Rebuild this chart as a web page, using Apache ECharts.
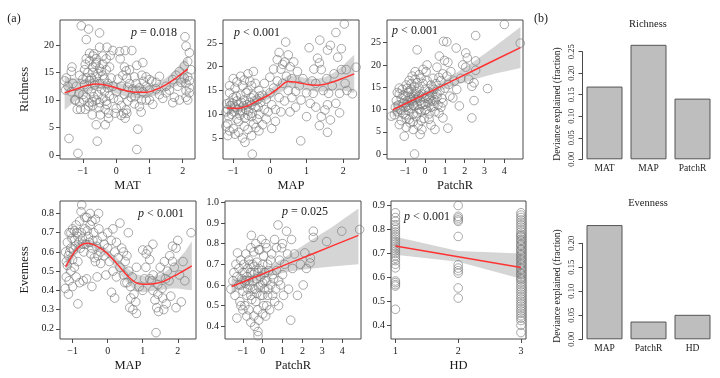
<!DOCTYPE html>
<html><head><meta charset="utf-8">
<script src="https://cdn.jsdelivr.net/npm/echarts@6/dist/echarts.min.js"></script>
<style>html,body{margin:0;padding:0;background:#fff}#c{width:720px;height:378px}</style>
</head><body><div id="c"></div>
<script>
// ---------------- DATA ----------------
// Panel 1: Richness vs MAT
const richMAT = [
[-1.05,23.5],[-0.83,22.9],[-0.5,22.2],[-0.9,21],[-1.33,16],[-1.35,15.2],[-1.5,14],[-1.52,11.8],[-1.42,3],[-1.15,0.3],[-0.57,2.5],[0.62,1],[0.65,4.7],[-0.6,5.5],[-0.33,5.5],[-0.23,6.7],
[-0.1,19],[0.1,18.8],[0.27,19],[0.47,19],[0.12,17.5],[-0.18,18.1],[-0.28,19.6],[-0.5,19.6],[-0.67,18.4],[-0.62,16.5],[-0.8,17.1],[-0.93,16.5],[0.62,16.3],[0.3,15.3],[0.32,14],[0.77,14.5],[0.82,13.4],[1.07,13.4],[1.3,14.3],[1.7,13.7],[1.9,15.2],
[2.07,21.5],[2.1,19.8],[2.2,18.6],[2.15,17],[2.05,16.2],[2.25,15.5],[2.15,14.2],[2.1,13],[2.2,12.2],[2.1,10.5],[1.9,10],[2.15,10],[2.2,11.3],[1.75,10.5],[1.5,11.3],[1.4,10.3],[1.1,9.2],[1.0,10],[0.7,8.8],[0.76,10],[0.62,11.8],[0.57,10.6],[0.32,7.6],[0.22,7.6],[0.27,6.7],[-0.03,7.6],[0.07,10],[-0.08,10.3],[-0.28,9.2],[-0.33,8.3],[-0.23,7.6],[-0.48,7.3],[-0.72,7.3],[-0.93,8.3],[-1.07,8.3],[-1.17,8.3],[-1.22,10],[-1.12,11.2],[-0.98,10],[-0.83,8.9],[-0.68,10.6],[-0.72,9.7],[-0.52,8.6],
[-0.9,14],[-0.8,13.5],[-0.7,15],[-0.6,14.2],[-0.5,13],[-0.4,14.5],[-0.3,15.5],[-0.85,12],[-0.75,11.5],[-0.65,12.7],[-0.55,11],[-0.45,12],[-0.35,11.5],[-0.25,13],[-0.95,12.8],[-1.0,11],[-0.7,16],[-0.6,16.8],[-0.5,15.8],[-0.4,16.5],[-0.3,17.5],[-0.2,16],[-0.15,14],[-0.1,12.5],[0.0,11.5],[0.05,13.8],[0.15,12.5],[0.2,14.5],[0.25,11],[0.35,12.3],[0.4,13],[0.45,10.5],[0.5,12],[-0.9,10.5],[-0.8,9.5],[-0.7,9],[-0.6,10],[-0.5,9.5],[-0.4,10.3],[-0.3,9.8],[-0.2,10.8],[-1.3,13],[-1.2,12.5],[-1.1,14.5],[-1.25,10],[-1.35,11.5],[-1.45,12.5],[-1.55,13.5],[-1.1,9.5],[-1.0,13.8],[-0.95,15.5],[-0.85,15],[-0.75,14],[-0.65,13.2],[-0.55,14.8],[-0.45,15.2],[-0.35,13.8],[-0.25,12.2],[-0.9,17.5],[-0.8,18.5],[-0.7,18],[-0.6,17.5],[-0.4,18],[0.25,16],[0.4,15.5],[0.55,14.2],[0.6,13],[0.7,12.2],[0.8,11.5],[0.9,12.5],[1.0,11.8],[1.2,12],[1.3,11],[1.5,12.5],[1.6,11.8],[1.7,9.5],[1.85,12.5],[1.8,14.5],[1.95,13.2],[2.05,14],[2.2,13.5],[2.1,11.7],[1.2,13.2],[1.0,13.7],[0.9,14.2],[0.8,16.8],[0.55,9.3],[0.35,9.8],[0.15,9],[0.0,8.5],[0.9,10],[0.75,7.8],[0.15,7.2],[0.3,8.2]
];
const richMATfx = [-1.55,-1.2,-0.9,-0.6,-0.3,0,0.3,0.6,0.9,1.2,1.5,1.8,2.15];
const richMATfy = [11.3,12.0,12.6,12.9,12.7,12.2,11.7,11.4,11.4,11.9,12.8,14.0,15.6];
const richMATlo = [8.2,10.0,11.4,12.0,11.9,11.2,10.6,10.3,10.3,10.8,11.6,12.5,13.1];
const richMAThi = [14.2,13.9,13.8,13.8,13.5,13.2,12.8,12.5,12.6,13.0,14.0,15.5,18.0];

// Panel 2: Richness vs MAP
const richMAP = [
[-1.15,11],[-1.1,12.5],[-1.05,10],[-1.0,13.5],[-0.95,11.5],[-0.9,9],[-0.85,12],[-0.8,14],[-0.75,10.5],[-0.7,13],[-0.65,11],[-0.6,15],[-0.55,12.5],[-0.5,9.5],[-0.45,14],[-0.4,11.5],[-0.35,13],[-0.3,10],[-1.15,8],[-1.1,14.5],[-1.0,7],[-0.95,15.5],[-0.9,12.8],[-0.85,8.5],[-0.8,10.8],[-0.75,16],[-0.7,7.5],[-0.65,14.5],[-0.6,9.8],[-0.55,17],[-0.5,12],[-0.45,8],[-0.4,16.5],[-0.35,9],[-0.3,15],[-0.25,12.5],[-0.2,14],[-0.15,11],[-1.2,10.5],[-1.18,12.2],[-1.12,9.5],[-1.08,11.8],[-1.02,12.3],[-0.98,10.5],[-0.92,13.8],[-0.88,11],[-0.82,9.8],[-0.78,12.5],[-0.72,11.8],[-0.68,9.2],[-0.62,12],[-0.58,10.7],[-0.52,13.5],[-0.48,10.2],[-0.42,12.8],[-0.38,7.2],[-0.32,11.5],[-0.28,13.8],[-1.1,16],[-1.0,17.5],[-0.9,16.8],[-0.8,18],[-0.7,17.2],[-0.6,18.5],[-0.5,16],[-0.45,19],[-1.2,7.5],[-1.1,6.5],[-0.95,5.8],[-0.85,6.2],[-0.75,5],[-0.68,4.1],[-0.6,6.8],[-0.5,5.5],[-0.48,1.6],[-1.15,5.5],[-0.3,6.5],[-0.2,7.8],[-0.1,9],[-0.15,16.5],[-0.1,13.2],[-0.05,10.5],
[0,14.5],[0.05,12],[0.1,15.5],[0.15,11],[0.2,17],[0.25,13.5],[0.3,19.5],[0.3,10.5],[0.35,16.5],[0.4,21],[0.4,12.8],[0.45,18],[0.5,15],[0.5,22.5],[0.55,20],[0.6,17.5],[0.6,13.5],[0.2,21.5],[0.1,19.5],[0.25,23],[0.43,25.2],[0.35,20.5],[0.0,17.8],[0.7,14.8],[0.75,19],[0.8,16],[0.85,13],[0.9,17.5],[0.65,21],[0.7,11.5],[0.55,10.5],[0.15,8.5],[0.05,7],
[1.0,14.5],[1.07,24],[1.1,12.3],[1.15,17],[1.18,14.4],[1.2,19.5],[1.25,16.5],[1.3,21.8],[1.35,20.8],[1.35,7.6],[1.4,19.4],[1.4,9.5],[1.36,25.6],[1.45,15],[1.5,10.9],[1.55,17.5],[1.57,23.5],[1.57,12],[1.57,6.2],[1.6,14.4],[1.65,8.8],[1.7,16],[1.75,18.5],[1.8,12.3],[1.8,27.2],[1.85,22],[1.9,14.4],[1.9,10.3],[1.95,19.4],[2.03,29],[2.05,16.5],[2.08,19.4],[2.1,15],[2.25,14.3],[2.35,19.9],[0.84,4.4],[1.0,9.5],[1.25,11.5],[1.65,24.5],[1.95,23.8]
];
const richMAPfx = [-1.17,-0.9,-0.6,-0.3,0,0.25,0.5,0.75,1.0,1.25,1.5,1.75,2.0,2.3];
const richMAPfy = [11.3,11.2,11.8,13.0,14.2,15.6,16.9,16.7,16.3,16.1,16.3,16.9,17.6,18.5];
const richMAPlo = [9.8,10.4,11.1,12.2,13.2,14.4,15.6,15.4,15.0,14.8,14.8,15.0,15.0,14.5];
const richMAPhi = [12.8,12.0,12.5,13.8,15.2,16.8,18.2,18.0,17.6,17.4,17.8,18.8,20.3,22.5];

// Panel 3: Richness vs PatchR
const richPR = [
[-1.7,8.5],[-1.55,8.8],[-1.5,10.5],[-1.45,12],[-1.4,9.5],[-1.35,11],[-1.3,6.6],[-1.3,13.5],[-1.25,10],[-1.2,7.5],[-1.2,12.5],[-1.15,14.5],[-1.1,9],[-1.1,11.5],[-1.05,4],[-1.0,13],[-1.0,10.5],[-0.95,15.5],[-0.95,8],[-0.9,12],[-0.85,9.8],[-0.85,13.8],[-0.8,11],[-0.8,16.5],[-0.75,7],[-0.75,12.8],[-0.7,10.2],[-0.7,14.5],[-0.65,11.8],[-0.65,17.5],[-0.6,9],[-0.6,13],[-0.55,10.8],[-0.55,15.2],[-0.53,0],[-0.5,12.2],[-0.5,18.5],[-0.45,8.5],[-0.45,14],[-0.4,23.4],[-0.4,11],[-0.4,16],[-0.35,12.8],[-0.35,6.5],[-0.3,10],[-0.3,14.8],[-0.25,4.4],[-0.25,12],[-0.2,17],[-0.2,9.5],[-0.16,5.5],[-0.15,13.5],[-0.1,11],[-0.1,15.8],[-0.05,8],[0,12.5],[0,14.5],[0.05,10],[0.05,18.5],[0.1,13],[0.1,16.5],[0.15,11.5],[0.2,14],[0.2,9],[0.25,12.8],[0.3,15.5],[0.3,10.5],[0.35,13.2],[0.4,17],[0.4,11.8],[0.45,14.5],[0.5,12.2],[0.5,9.5],[0.55,15.8],[0.6,13.5],[0.6,19.5],[0.65,11],[0.72,22],[0.75,14.2],[0.8,16.5],[0.85,12.5],[0.9,8.1],[0.93,25.3],[0.98,21],[1.0,14.8],[1.1,25.2],[1.1,17.5],[1.15,20.6],[1.15,5.8],[1.2,15.6],[1.25,13],[1.3,18.5],[1.4,12.6],[1.48,16.4],[1.57,23.8],[1.6,14.5],[1.73,10.8],[1.8,17],[1.9,20],[2.05,22.7],[2.05,19.5],[2.13,21.6],[2.2,16.8],[2.36,15.2],[2.36,8.1],[2.47,16],[2.47,12],[2.55,20.9],[2.55,18.8],[2.55,26.6],[3.15,14.7],[4.0,29.1],[4.8,24.9],
[-1.2,9.8],[-1.0,8.8],[-0.8,7.8],[-0.6,7.2],[-0.4,9.2],[-0.2,7.5],[0,9.8],[0.2,7.8],[-0.9,14.8],[-0.7,15.8],[-0.5,16.8],[-0.3,17.8],[-0.1,19],[0.1,20],[-1.4,13.8],[-1.3,14.8],[-0.95,6],[-0.6,5.5],[0.3,6.5],[0.5,5.5],[0.7,9.2],[0.8,10.5],[0.9,11.5],[0.3,12],[0.4,14.8],[0.7,17.2],[0.9,18],[-0.3,13.2],[-0.5,13.6],[-0.7,12.2],[-0.9,10.8],[-1.1,13.2],[-0.8,14.2],[-0.6,11],[-0.4,12.5],[-0.2,11.2],[0,11.2],[0.2,12.4],[0.45,10.8],[0.6,12.8]
];
const richPRfx = [-1.63,-0.5,0.5,1.5,2.5,3.5,4.81];
const richPRfy = [9.9,12.36,14.53,16.7,18.88,21.05,23.9];
const richPRlo = [8.2,11.6,13.8,15.4,16.8,18.0,19.3];
const richPRhi = [11.6,13.1,15.3,18.0,20.9,24.1,28.5];

// Panel 4: Evenness vs MAP
const evenMAP = [
[-1.2,0.6],[-1.15,0.65],[-1.1,0.7],[-1.05,0.62],[-1.0,0.72],[-0.95,0.66],[-0.9,0.74],[-0.85,0.68],[-0.8,0.76],[-0.75,0.7],[-0.7,0.64],[-0.65,0.72],[-0.6,0.78],[-0.55,0.68],[-0.5,0.74],[-0.45,0.62],[-0.4,0.7],[-0.35,0.77],[-0.3,0.66],[-0.25,0.72],[-0.2,0.6],[-0.15,0.68],[-0.1,0.64],[-1.18,0.55],[-1.12,0.58],[-1.08,0.6],[-1.02,0.67],[-0.98,0.61],[-0.92,0.63],[-0.88,0.7],[-0.82,0.65],[-0.78,0.62],[-0.72,0.67],[-0.68,0.6],[-0.62,0.64],[-0.58,0.71],[-0.52,0.65],[-0.48,0.59],[-0.42,0.66],[-0.38,0.57],[-0.32,0.63],[-0.28,0.58],[-0.74,0.845],[-0.76,0.81],[-0.26,0.8],[-0.5,0.8],[-0.45,0.76],[-0.65,0.78],[-0.95,0.71],[-1.05,0.7],
[-1.21,0.41],[-1.18,0.47],[-1.12,0.38],[-1.1,0.45],[-1.05,0.5],[-1.0,0.42],[-0.95,0.52],[-0.9,0.47],[-0.85,0.33],[-0.8,0.44],[-0.7,0.45],[-0.6,0.46],[-0.45,0.42],[-0.35,0.55],[-0.3,0.47],[-0.2,0.54],[-1.15,0.53],[-1.0,0.56],[-0.85,0.55],
[0.0,0.62],[0.05,0.55],[0.1,0.66],[0.15,0.5],[0.2,0.6],[0.25,0.47],[0.3,0.57],[0.35,0.75],[0.35,0.52],[0.4,0.62],[0.45,0.48],[0.5,0.55],[0.55,0.44],[0.59,0.7],[0.6,0.5],[0.65,0.42],[0.7,0.47],[0.11,0.39],[0.2,0.36],[0.49,0.44],[0.63,0.31],[0.72,0.3],[0.82,0.28],[0.66,0.36],[0.82,0.52],[0.75,0.38],[0.8,0.34],[-0.05,0.48],[0.0,0.7],[0.15,0.72],[0.25,0.65],[-0.1,0.58],[0.45,0.6],[0.55,0.58],
[0.9,0.42],[1.0,0.4],[1.05,0.46],[1.09,0.52],[1.1,0.59],[1.15,0.61],[1.2,0.56],[1.25,0.45],[1.29,0.64],[1.29,0.4],[1.3,0.48],[1.35,0.35],[1.38,0.18],[1.4,0.31],[1.43,0.43],[1.43,0.38],[1.45,0.29],[1.5,0.47],[1.5,0.52],[1.55,0.41],[1.57,0.36],[1.6,0.3],[1.62,0.55],[1.65,0.46],[1.67,0.33],[1.7,0.5],[1.75,0.45],[1.77,0.58],[1.8,0.37],[1.85,0.55],[1.9,0.52],[1.95,0.31],[1.95,0.62],[2.0,0.66],[2.05,0.48],[2.1,0.34],[2.15,0.55],[2.2,0.45],[2.38,0.7],[1.85,0.63],[1.0,0.61],[1.2,0.46]
];
const evenMAPfx = [-1.2,-1.0,-0.8,-0.6,-0.4,-0.2,0,0.2,0.4,0.6,0.8,1.0,1.2,1.4,1.6,1.8,2.0,2.2,2.4];
const evenMAPfy = [0.522,0.585,0.63,0.645,0.638,0.618,0.59,0.552,0.51,0.47,0.44,0.432,0.433,0.437,0.447,0.465,0.485,0.505,0.527];
const evenMAPlo = [0.48,0.56,0.61,0.628,0.622,0.6,0.568,0.525,0.475,0.43,0.395,0.39,0.395,0.4,0.405,0.41,0.41,0.405,0.4];
const evenMAPhi = [0.565,0.61,0.65,0.662,0.654,0.636,0.612,0.58,0.545,0.51,0.485,0.475,0.472,0.475,0.49,0.52,0.56,0.6,0.655];

// Panel 5: Evenness vs PatchR
const evenPR = [
[-1.6,0.58],[-1.5,0.62],[-1.45,0.66],[-1.4,0.55],[-1.35,0.7],[-1.3,0.44],[-1.3,0.64],[-1.27,0.755],[-1.2,0.6],[-1.2,0.68],[-1.15,0.52],[-1.1,0.72],[-1.05,0.63],[-1.0,0.57],[-1.0,0.66],[-0.95,0.7],[-0.9,0.5],[-0.9,0.61],[-0.85,0.75],[-0.8,0.64],[-0.8,0.55],[-0.75,0.68],[-0.7,0.72],[-0.7,0.48],[-0.65,0.6],[-0.6,0.66],[-0.6,0.78],[-0.57,0.84],[-0.55,0.53],[-0.5,0.62],[-0.5,0.7],[-0.45,0.45],[-0.45,0.76],[-0.4,0.58],[-0.4,0.66],[-0.35,0.8],[-0.35,0.52],[-0.3,0.63],[-0.3,0.71],[-0.25,0.48],[-0.24,0.375],[-0.24,0.355],[-0.2,0.68],[-0.2,0.59],[-0.15,0.77],[-0.1,0.55],[-0.1,0.64],[-0.05,0.82],[0,0.61],[0,0.7],[0.05,0.5],[0.05,0.74],[0.1,0.58],[0.1,0.66],[0.15,0.45],[0.15,0.8],[0.2,0.62],[0.25,0.55],[0.25,0.7],[0.3,0.67],[0.35,0.48],[0.4,0.6],[0.45,0.75],[0.5,0.55],[0.55,0.63],[0.6,0.82],[0.65,0.58],[0.7,0.67],[0.77,0.89],[0.8,0.5],[0.85,0.72],[0.9,0.6],[0.95,0.78],[1.0,0.65],[1.05,0.55],[1.1,0.7],[1.2,0.86],[1.25,0.75],[1.3,0.58],[1.41,0.43],[1.45,0.82],[1.5,0.68],[1.6,0.75],[1.75,0.55],[1.9,0.7],[2.04,0.6],[2.12,0.755],[2.2,0.68],[2.38,0.707],[2.4,0.73],[2.55,0.86],[2.55,0.83],[3.22,0.81],[3.98,0.86],[4.88,0.868],
[-1.1,0.6],[-0.9,0.66],[-0.7,0.62],[-0.5,0.58],[-0.3,0.56],[-0.1,0.6],[0.1,0.62],[-1.0,0.48],[-0.8,0.45],[-0.6,0.42],[-0.4,0.4],[-0.2,0.43],[0,0.46],[0.2,0.5],[-0.65,0.7],[-0.45,0.69],[-0.25,0.66],[-0.05,0.67],[0.3,0.58],[0.5,0.65],[0.6,0.52],[0.8,0.62],[-0.6,0.55],[-0.75,0.58],[-0.85,0.62],[0.4,0.72],[-1.1,0.5],[-0.2,0.77],[0.0,0.55],[0.2,0.78],[0.7,0.78],[1.0,0.8]
];
const evenPRfx = [-1.57,-0.5,0.5,1.5,2.5,3.5,4.82];
const evenPRfy = [0.593,0.634,0.673,0.712,0.750,0.789,0.84];
const evenPRlo = [0.56,0.615,0.648,0.668,0.68,0.69,0.70];
const evenPRhi = [0.628,0.652,0.698,0.757,0.82,0.88,0.97];

// Panel 6: Evenness vs HD (HD = 1, 2, 3)
const evenHD1 = [0.87,0.85,0.835,0.82,0.81,0.80,0.79,0.78,0.77,0.76,0.75,0.74,0.73,0.72,0.71,0.70,0.69,0.68,0.67,0.655,0.64,0.585,0.578,0.57,0.564,0.467];
const evenHD2 = [0.9,0.855,0.848,0.84,0.834,0.771,0.653,0.639,0.628,0.618,0.556,0.514];
const evenHD3 = [0.87,0.86,0.85,0.84,0.83,0.82,0.81,0.80,0.79,0.78,0.775,0.77,0.76,0.755,0.75,0.74,0.735,0.73,0.72,0.715,0.71,0.70,0.695,0.69,0.68,0.675,0.67,0.66,0.655,0.65,0.64,0.635,0.63,0.62,0.615,0.61,0.60,0.595,0.59,0.58,0.57,0.56,0.55,0.54,0.53,0.52,0.51,0.50,0.49,0.48,0.47,0.46,0.45,0.44,0.43,0.42,0.40,0.37];
const evenHDfx = [1,2,3];
const evenHDfy = [0.731,0.686,0.641];
const evenHDlo = [0.695,0.665,0.595];
const evenHDhi = [0.77,0.71,0.70];

// Panel (b): deviance explained
const richCats = ['MAT','MAP','PatchR'];
const richDev = [0.169,0.266,0.141];
const evenCats = ['MAP','PatchR','HD'];
const evenDev = [0.238,0.037,0.051];

// ---------------- CHART ----------------
const FONT = 'Liberation Serif';
const TXT = '#1a1a1a';
const AX = '#4a4a4a';
const fmtNum = d => v => {
  const s = Math.abs(v).toFixed(d);
  return v < 0 ? '\u2212' + s : s;
};
const evenHD = [].concat(evenHD1.map(v=>[1,v]), evenHD2.map(v=>[2,v]), evenHD3.map(v=>[3,v]));

const panels = [
 {box:[60,20,195,159], xr:[-1.69,2.37], yr:[-0.73,24.55], xt:[-1,0,1,2], yt:[0,5,10,15,20], yd:0, xname:'MAT', yname:'Richness',
  pts:richMAT, fx:richMATfx, fy:richMATfy, lo:richMATlo, hi:richMAThi, smooth:true},
 {box:[223,20,359,159], xr:[-1.28,2.43], yr:[0.58,29.84], xt:[-1,0,1,2], yt:[5,10,15,20,25], yd:0, xname:'MAP',
  pts:richMAP, fx:richMAPfx, fy:richMAPfy, lo:richMAPlo, hi:richMAPhi, smooth:true},
 {box:[387,20,523,159], xr:[-1.92,4.94], yr:[-1.12,30.1], xt:[-1,0,1,2,3,4], yt:[0,5,10,15,20,25], yd:0, xname:'PatchR',
  pts:richPR, fx:richPRfx, fy:richPRfy, lo:richPRlo, hi:richPRhi, smooth:false},
 {box:[60,201,196,339], xr:[-1.36,2.52], yr:[0.147,0.865], xt:[-1,0,1,2], yt:[0.2,0.3,0.4,0.5,0.6,0.7,0.8], yd:1, xname:'MAP', yname:'Evenness',
  pts:evenMAP, fx:evenMAPfx, fy:evenMAPfy, lo:evenMAPlo, hi:evenMAPhi, smooth:true},
 {box:[225,201,361,339], xr:[-1.9,4.95], yr:[0.339,1.006], xt:[-1,0,1,2,3,4], yt:[0.4,0.5,0.6,0.7,0.8,0.9,1.0], yd:1, xname:'PatchR',
  pts:evenPR, fx:evenPRfx, fy:evenPRfy, lo:evenPRlo, hi:evenPRhi, smooth:false},
 {box:[391,201,526,339], xr:[0.93,3.08], yr:[0.343,0.919], xt:[1,2,3], yt:[0.4,0.5,0.6,0.7,0.8,0.9], yd:1, xname:'HD',
  pts:evenHD, fx:evenHDfx, fy:evenHDfy, lo:evenHDlo, hi:evenHDhi, smooth:false}
];

const grid = [], xAxis = [], yAxis = [], series = [];
panels.forEach((p, i) => {
  grid.push({left:p.box[0], top:p.box[1], width:p.box[2]-p.box[0], height:p.box[3]-p.box[1],
    show:true, borderColor:AX, borderWidth:1, backgroundColor:'transparent'});
  xAxis.push({type:'value', gridIndex:i, min:p.xr[0], max:p.xr[1],
    axisLine:{show:false, onZero:false}, splitLine:{show:false},
    axisTick:{show:true, length:4, inside:false, customValues:p.xt, lineStyle:{color:AX}},
    axisLabel:{customValues:p.xt, formatter:fmtNum(0), fontFamily:FONT, fontSize:10, color:TXT, margin:7},
    name:p.xname, nameLocation:'middle', nameGap:20, nameTextStyle:{fontFamily:FONT, fontSize:12.5, color:TXT}});
  yAxis.push({type:'value', gridIndex:i, min:p.yr[0], max:p.yr[1],
    axisLine:{show:false, onZero:false}, splitLine:{show:false},
    axisTick:{show:true, length:4, inside:false, customValues:p.yt, lineStyle:{color:AX}},
    axisLabel:{customValues:p.yt, formatter:fmtNum(p.yd), fontFamily:FONT, fontSize:10, color:TXT, margin:6},
    name:p.yname || '', nameLocation:'middle', nameGap:29, nameRotate:90,
    nameTextStyle:{fontFamily:FONT, fontSize:12.5, color:TXT}});
  const fx = p.fx, lo = p.lo, hi = p.hi;
  series.push({type:'custom', xAxisIndex:i, yAxisIndex:i, silent:true, z:1, data:[[fx[0], lo[0]]],
    renderItem:(params, api) => {
      const pts = [];
      for (let k = 0; k < fx.length; k++) pts.push(api.coord([fx[k], hi[k]]));
      for (let k = fx.length - 1; k >= 0; k--) pts.push(api.coord([fx[k], lo[k]]));
      return {type:'polygon', shape:{points:pts}, style:{fill:'#d5d5d5', stroke:null}};
    }});
  series.push({type:'scatter', xAxisIndex:i, yAxisIndex:i, data:p.pts, symbol:'circle', symbolSize:8.6, z:2,
    itemStyle:{color:'rgba(255,255,255,0)', borderColor:'#777777', borderWidth:0.8}, silent:true});
  series.push({type:'line', xAxisIndex:i, yAxisIndex:i, data:p.fx.map((x,k)=>[x,p.fy[k]]), showSymbol:false,
    smooth:p.smooth ? 0.4 : false, lineStyle:{color:'#ff3333', width:1.5}, z:3, silent:true});
});

// Bar panels
const bars = [
  {cats:richCats, vals:richDev, top:51.7, height:107.6, max:0.25},
  {cats:evenCats, vals:evenDev, top:243.3, height:96, max:0.20}
];
bars.forEach((b, j) => {
  const gi = panels.length + j;
  grid.push({left:582.5, top:b.top, width:132, height:b.height, show:false});
  xAxis.push({type:'category', gridIndex:gi, data:b.cats, axisLine:{show:false}, axisTick:{show:false},
    axisLabel:{fontFamily:FONT, fontSize:9.5, color:TXT, margin:4}});
  yAxis.push({type:'value', gridIndex:gi, min:0, max:b.max, interval:0.05,
    axisLine:{show:true, lineStyle:{color:AX}}, splitLine:{show:false},
    axisTick:{show:true, length:4, inside:false, lineStyle:{color:AX}},
    axisLabel:{rotate:90, formatter:v=>v.toFixed(2), fontFamily:FONT, fontSize:8.5, color:TXT, margin:6}});
  series.push({type:'bar', xAxisIndex:gi, yAxisIndex:gi, data:b.vals, barWidth:36, clip:false,
    itemStyle:{color:'#bebebe', borderColor:'#555555', borderWidth:1}, silent:true});
});

function txt(x, y, text, size, extra) {
  return Object.assign({type:'text', x:x, y:y, silent:true,
    style:Object.assign({text:text, fontFamily:FONT, fontSize:size, fill:TXT, align:'center', verticalAlign:'middle'}, extra || {})});
}
const pRich = {i:{fontStyle:'italic', fontFamily:FONT, fontSize:12, fill:TXT}, n:{fontFamily:FONT, fontSize:12, fill:TXT}};
const graphic = [
  txt(14, 19, '(a)', 12),
  txt(541, 19, '(b)', 12),
  txt(648, 24.5, 'Richness', 10.5),
  txt(648, 203, 'Evenness', 10.5),
  Object.assign(txt(557, 104, 'Deviance explained (fraction)', 9.5), {rotation:Math.PI/2}),
  Object.assign(txt(557, 286, 'Deviance explained (fraction)', 9.5), {rotation:Math.PI/2}),
  txt(154, 33, '{i|p}{n| = 0.018}', 12, {rich:pRich}),
  txt(257, 33, '{i|p}{n| < 0.001}', 12, {rich:pRich}),
  txt(415, 31, '{i|p}{n| < 0.001}', 12, {rich:pRich}),
  txt(161, 213.5, '{i|p}{n| < 0.001}', 12, {rich:pRich}),
  txt(305, 212, '{i|p}{n| = 0.025}', 12, {rich:pRich}),
  txt(427, 216.5, '{i|p}{n| < 0.001}', 12, {rich:pRich})
];

const chart = echarts.init(document.getElementById('c'), null, {renderer:'canvas'});
chart.setOption({animation:false, backgroundColor:'#ffffff', grid, xAxis, yAxis, series, graphic});
</script></body></html>
